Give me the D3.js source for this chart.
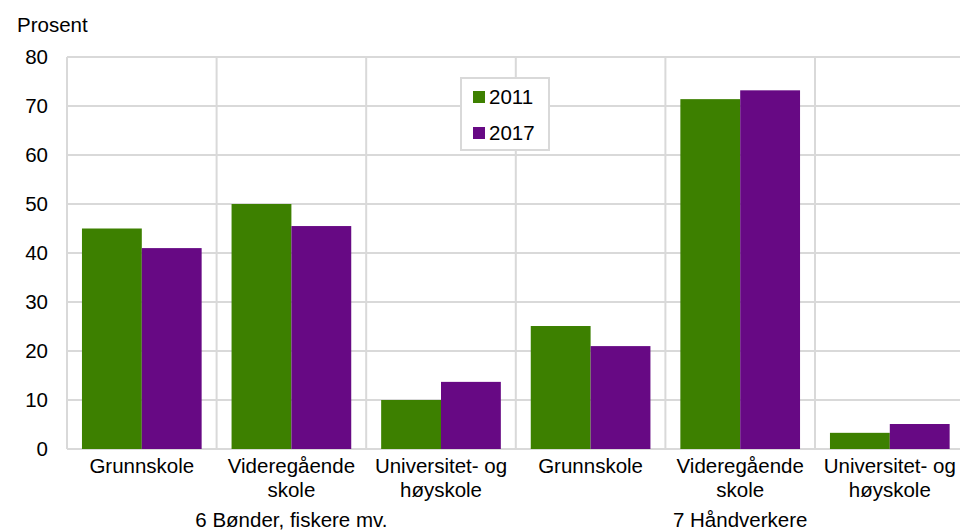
<!DOCTYPE html>
<html>
<head>
<meta charset="utf-8">
<script src="https://cdn.jsdelivr.net/npm/d3@7"></script>
<style>
  html, body { margin: 0; padding: 0; background: #fff; }
  svg { display: block; font-family: "Liberation Sans", Arial, sans-serif; }
</style>
</head>
<body>
<svg id="chart" width="960" height="531"></svg>
<script>
const categories = [
  ["Grunnskole"], ["Videregående", "skole"], ["Universitet- og", "høyskole"],
  ["Grunnskole"], ["Videregående", "skole"], ["Universitet- og", "høyskole"]
];
const groups = ["6 Bønder, fiskere mv.", "7 Håndverkere"];
const seriesNames = ["2011", "2017"];
const values2011 = [45, 50, 10, 25.1, 71.4, 3.3];
const values2017 = [41, 45.5, 13.7, 21, 73.2, 5.1];
const yTicks = [0, 10, 20, 30, 40, 50, 60, 70, 80];
const colors = ["#3d8000", "#670984"];

(function () {
const svg = d3.select("#chart");
const pLeft = 67, pTop = 57, pBottom = 449;
const step = 149.6;
const pRight = pLeft + step * categories.length;
const fs = 20.5;

const x0 = d3.scaleBand().domain(d3.range(categories.length)).range([pLeft, pRight]).padding(0);
const x1 = d3.scaleBand().domain(seriesNames).range([step * 0.1, step * 0.9]).padding(0);
const y = d3.scaleLinear().domain([0, 80]).range([pBottom, pTop]);

const grid = "#d9d9d9";
svg.append("g").selectAll("line").data(yTicks).join("line")
  .attr("x1", pLeft).attr("x2", pRight)
  .attr("y1", d => y(d)).attr("y2", d => y(d))
  .attr("stroke", grid).attr("stroke-width", 2);
svg.append("g").selectAll("line").data(d3.range(categories.length + 1)).join("line")
  .attr("x1", d => pLeft + d * step).attr("x2", d => pLeft + d * step)
  .attr("y1", pTop).attr("y2", pBottom)
  .attr("stroke", grid).attr("stroke-width", 2);

svg.append("g").selectAll("text").data(yTicks).join("text")
  .attr("x", 48).attr("y", d => y(d)).attr("dy", "0.36em")
  .attr("text-anchor", "end").attr("font-size", fs).attr("fill", "#000")
  .text(d => d);

svg.append("text").attr("x", 17).attr("y", 32).attr("font-size", fs).text("Prosent");

const data = [values2011, values2017];
const cat = svg.append("g").selectAll("g").data(categories).join("g")
  .attr("transform", (d, i) => `translate(${x0(i)},0)`);
cat.selectAll("rect").data((d, i) => seriesNames.map((s, k) => ({s, v: data[k][i], k})))
  .join("rect")
  .attr("x", d => x1(d.s)).attr("width", x1.bandwidth())
  .attr("y", d => y(d.v)).attr("height", d => y(0) - y(d.v))
  .attr("fill", d => colors[d.k]);

cat.each(function(lines) {
  const t = d3.select(this).append("text")
    .attr("text-anchor", "middle").attr("font-size", fs)
    .attr("x", step / 2).attr("y", 473);
  lines.forEach((l, j) => t.append("tspan").attr("x", step / 2).attr("y", 473 + j * 24).text(l));
});

svg.append("g").selectAll("text").data(groups).join("text")
  .attr("x", (d, i) => pLeft + step * 3 * i + step * 1.5)
  .attr("y", 527).attr("text-anchor", "middle").attr("font-size", fs)
  .text(d => d);

const lg = svg.append("g");
lg.append("rect").attr("x", 461).attr("y", 78).attr("width", 88).attr("height", 72)
  .attr("fill", "#fff").attr("stroke", grid).attr("stroke-width", 2);
seriesNames.forEach((s, k) => {
  lg.append("rect").attr("x", 473).attr("y", 91 + k * 36).attr("width", 12).attr("height", 12).attr("fill", colors[k]);
  lg.append("text").attr("x", 489).attr("y", 104 + k * 36).attr("font-size", fs).text(s);
});
})();
</script>
</body>
</html>
